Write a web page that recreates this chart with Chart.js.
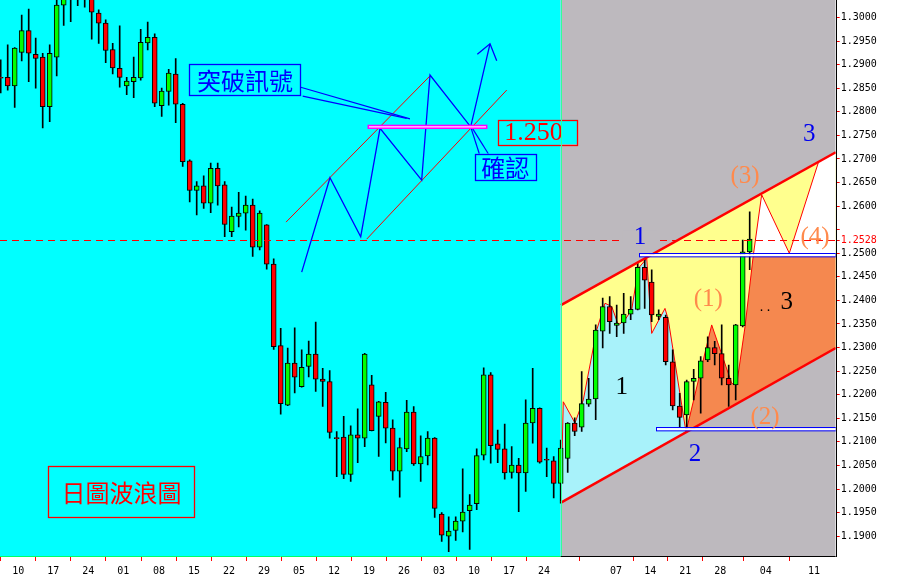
<!DOCTYPE html>
<html>
<head>
<meta charset="utf-8">
<script src="https://cdn.jsdelivr.net/npm/chart.js@4.4.1/dist/chart.umd.min.js"></script>
<style>
  html, body { margin: 0; padding: 0; background: #ffffff; }
  canvas { display: block; }
</style>
</head>
<body>
<canvas id="waveChart" width="898" height="581"></canvas>
<script>
// daily candles, one per trading day (index = bar number)
const opens = [1.2873,1.2873,1.2855,1.2926,1.2972,1.2922,1.2916,1.2811,1.2916,1.3026,1.3060,1.3070,1.3062,1.3052,1.3009,1.2988,1.2932,1.2892,1.2855,1.2864,1.2872,1.2946,1.2958,1.2813,1.2843,1.2880,1.2816,1.2696,1.2633,1.2643,1.2606,1.2680,1.2645,1.2546,1.2578,1.2585,1.2602,1.2513,1.2560,1.2477,1.2304,1.2178,1.2267,1.2217,1.2260,1.2286,1.2233,1.2228,1.2109,1.2110,1.2031,1.2115,1.2108,1.2221,1.2154,1.2184,1.2129,1.2038,1.2085,1.2163,1.2053,1.2070,1.2108,1.1947,1.1900,1.1912,1.1932,1.1954,1.1969,1.2072,1.2242,1.2096,1.2085,1.2035,1.2051,1.2034,1.2140,1.2171,1.2063,1.2060,1.2012,1.2065,1.2140,1.2131,1.2180,1.2191,1.2335,1.2387,1.2347,1.2352,1.2371,1.2381,1.2470,1.2439,1.2366,1.2364,1.2270,1.2176,1.2157,1.2228,1.2235,1.2274,1.2300,1.2287,1.2235,1.2221,1.2346,1.2503];
const highs = [1.2910,1.2942,1.2936,1.3005,1.3018,1.2956,1.2924,1.2942,1.3045,1.3080,1.3090,1.3095,1.3085,1.3070,1.3016,1.2995,1.2945,1.2982,1.2873,1.2916,1.2975,1.2990,1.2965,1.2850,1.2890,1.2913,1.2818,1.2698,1.2652,1.2664,1.2691,1.2691,1.2652,1.2598,1.2629,1.2621,1.2615,1.2590,1.2561,1.2488,1.2341,1.2299,1.2342,1.2295,1.2314,1.2354,1.2256,1.2251,1.2122,1.2154,1.2134,1.2170,1.2288,1.2241,1.2186,1.2205,1.2147,1.2108,1.2188,1.2175,1.2113,1.2122,1.2109,1.1950,1.1941,1.1941,1.2043,1.1988,1.2085,1.2257,1.2247,1.2125,1.2138,1.2090,1.2065,1.2189,1.2256,1.2172,1.2087,1.2069,1.2104,1.2141,1.2151,1.2249,1.2235,1.2348,1.2405,1.2408,1.2390,1.2415,1.2408,1.2480,1.2489,1.2465,1.2380,1.2369,1.2295,1.2203,1.2231,1.2254,1.2281,1.2323,1.2313,1.2348,1.2263,1.2349,1.2528,1.2588];
const lows = [1.2840,1.2846,1.2809,1.2908,1.2864,1.2850,1.2766,1.2779,1.2876,1.2983,1.2991,1.3025,1.3022,1.2954,1.2945,1.2904,1.2880,1.2852,1.2836,1.2830,1.2867,1.2931,1.2811,1.2790,1.2814,1.2777,1.2684,1.2609,1.2581,1.2595,1.2586,1.2602,1.2535,1.2535,1.2556,1.2549,1.2493,1.2507,1.2466,1.2296,1.2159,1.2177,1.2204,1.2216,1.2238,1.2207,1.2175,1.2108,1.2026,1.2022,1.2016,1.2056,1.2090,1.2123,1.2069,1.2098,1.2019,1.1983,1.2079,1.2050,1.2016,1.2051,1.1940,1.1889,1.1867,1.1891,1.1909,1.1872,1.1956,1.2062,1.2055,1.2056,1.2021,1.2023,1.1952,1.1995,1.2097,1.2055,1.2026,1.1981,1.1970,1.2035,1.2113,1.2122,1.2175,1.2147,1.2299,1.2330,1.2323,1.2330,1.2359,1.2380,1.2383,1.2355,1.2359,1.2263,1.2168,1.2132,1.2129,1.2189,1.2161,1.2270,1.2263,1.2221,1.2175,1.2189,1.2344,1.2465];
const closes = [1.2871,1.2855,1.2935,1.2972,1.2924,1.2913,1.2811,1.2924,1.3026,1.3060,1.3068,1.3062,1.3052,1.3011,1.2988,1.2930,1.2893,1.2873,1.2865,1.2873,1.2947,1.2958,1.2818,1.2844,1.2882,1.2816,1.2694,1.2633,1.2643,1.2606,1.2680,1.2643,1.2561,1.2579,1.2585,1.2602,1.2513,1.2585,1.2477,1.2302,1.2181,1.2267,1.2237,1.2258,1.2286,1.2233,1.2228,1.2120,1.2107,1.2031,1.2115,1.2108,1.2286,1.2124,1.2185,1.2129,1.2038,1.2088,1.2163,1.2053,1.2069,1.2108,1.1959,1.1902,1.1911,1.1932,1.1951,1.1966,1.2071,1.2242,1.2092,1.2084,1.2034,1.2051,1.2034,1.2140,1.2171,1.2057,1.2061,1.2012,1.2087,1.2140,1.2122,1.2181,1.2191,1.2337,1.2387,1.2355,1.2352,1.2371,1.2381,1.2470,1.2443,1.2369,1.2371,1.2270,1.2176,1.2152,1.2228,1.2235,1.2272,1.2300,1.2287,1.2235,1.2221,1.2348,1.2503,1.2530];

// axis ticks
const dayTicks = [2.5,7.5,12.5,17.5,22.6,27.6,32.6,37.6,42.6,47.6,52.6,57.6,62.6,67.6,72.6,77.6,87.9,92.8,97.8,102.8,109.3,116.2];
const dayLabels = ["10","17","24","01","08","15","22","29","05","12","19","26","03","10","17","24","07","14","21","28","04","11"];
const priceTicks = [1.1900,1.1950,1.2000,1.2050,1.2100,1.2150,1.2200,1.2250,1.2300,1.2350,1.2400,1.2450,1.2500,1.2528,1.2550,1.2600,1.2650,1.2700,1.2750,1.2800,1.2850,1.2900,1.2950,1.3000];
const priceLabels = ["1.1900","1.1950","1.2000","1.2050","1.2100","1.2150","1.2200","1.2250","1.2300","1.2350","1.2400","1.2450","1.2500","1.2528","","1.2600","1.2650","1.2700","1.2750","1.2800","1.2850","1.2900","1.2950","1.3000"];
const markLevel = 1.2528;
const futureStart = 80;

// wave count drawing (bar index, price)
const channelTop = [[80.04, 1.2390], [119.29, 1.2714]];
const channelBottom = [[80.04, 1.1971], [119.29, 1.2299]];
const wavePath = [[80.04,1.1971],[80.37,1.2185],[82.04,1.2140],[83.23,1.2189],[85.14,1.2337],[86.33,1.2394],[87.29,1.2387],[88.23,1.2348],[89.19,1.2359],[90.14,1.2380],[91.09,1.2468],[92.29,1.2489],[93.0,1.2330],[94.9,1.2383],[95.37,1.2359],[97.9,1.2121],[101.57,1.2348],[104.43,1.2224],[105.14,1.2221],[106.33,1.2344],[107.51,1.2495],[108.71,1.2624],[112.66,1.2500],[116.8,1.2692]];
const waveLowIdx = 15;
const waveBreakIdx = 20;
const levelHigh = { from: 91.23, to: 119.29, top: 1.2498, bottom: 1.2493 };
const levelLow = { from: 93.6, to: 119.29, top: 1.2129, bottom: 1.2124 };

// breakout sketch on the left
const sketchWave = [[43.0,1.2460],[47.04,1.2660],[51.43,1.2535],[54.19,1.2765],[60.14,1.2655],[61.33,1.2878],[67.14,1.2768],[69.9,1.2944]];
const sketchArrow = [[68.09,1.2922],[69.9,1.2944],[70.86,1.2908]];
const sketchRails = [[[40.76,1.2566],[61.33,1.2876]], [[52.29,1.2530],[72.29,1.2846]]];
const breakBar = { from: 52.51, to: 69.43, top: 1.2771, bottom: 1.2765 };
const pointers = [
  [[42.86,1.2852],[58.47,1.2785]], [[43.14,1.2833],[58.0,1.2786]],
  [[67.14,1.2768],[68.37,1.2711]], [[67.26,1.2768],[69.66,1.2711]]
];

const notes = [
  { text: "突破訊號", from: [26.94,1.2901], to: [42.86,1.2836], color: "#0000ff" },
  { text: "確認", from: [67.76,1.2711], to: [76.43,1.2655], color: "#0000ff" },
  { text: "1.250", from: [71.09,1.2783], to: [82.37,1.2731], color: "#ff0000", serif: true },
  { text: "日圖波浪圖", from: [6.8,1.2049], to: [27.71,1.1941], color: "#ff0000" }
];
const waveLabels = [
  { text: "1", at: [91.33,1.2535], color: "#0000ee", bg: true },
  { text: "(1)", at: [101.09,1.2405], color: "#ff8a4c" },
  { text: "3", at: [112.29,1.2397], color: "#000000" },
  { text: ". .", at: [109.2,1.2388], color: "#000000", small: true },
  { text: "1", at: [88.71,1.2217], color: "#000000" },
  { text: "(2)", at: [109.19,1.2154], color: "#ff8a4c" },
  { text: "2", at: [99.19,1.2076], color: "#0000ee" },
  { text: "(3)", at: [106.33,1.2666], color: "#ff8a4c" },
  { text: "3", at: [115.51,1.2754], color: "#0000ee" },
  { text: "(4)", at: [116.33,1.2535], color: "#ff8a4c" }
];

const bodies = opens.map((o, i) => ({ x: i, y: [Math.min(o, closes[i]), Math.max(o, closes[i])] }));
const wicks = highs.map((h, i) => ({ x: i, y: [lows[i], h] }));
const bodyColors = opens.map((o, i) => (closes[i] >= o ? "#00ff00" : "#ff0000"));

const toPx = (chart, p) => [chart.scales.x.getPixelForValue(p[0]), chart.scales.y.getPixelForValue(p[1])];

function fillPoly(ctx, pts, color) {
  ctx.beginPath();
  pts.forEach((p, i) => (i ? ctx.lineTo(p[0], p[1]) : ctx.moveTo(p[0], p[1])));
  ctx.closePath();
  ctx.fillStyle = color;
  ctx.fill();
}

function strokePath(ctx, pts, color, width, dash) {
  ctx.beginPath();
  pts.forEach((p, i) => (i ? ctx.lineTo(p[0], p[1]) : ctx.moveTo(p[0], p[1])));
  ctx.strokeStyle = color;
  ctx.lineWidth = width;
  ctx.setLineDash(dash || []);
  ctx.stroke();
  ctx.setLineDash([]);
}

const backdrop = {
  id: "backdrop",
  beforeDatasetsDraw(chart) {
    const { ctx, chartArea: a } = chart;
    const P = (p) => toPx(chart, p);
    const split = chart.scales.x.getPixelForValue(futureStart);
    ctx.save();
    ctx.beginPath();
    ctx.rect(a.left, a.top, a.right - a.left, a.bottom - a.top);
    ctx.clip();
    ctx.fillStyle = "#00ffff";
    ctx.fillRect(a.left, a.top, split - a.left, a.bottom - a.top);
    ctx.fillStyle = "#bdb9be";
    ctx.fillRect(split, a.top, a.right - split, a.bottom - a.top);

    // channel body, yellow
    fillPoly(ctx, [channelTop[0], channelTop[1], channelBottom[1], channelBottom[0]].map(P), "#ffff8e");
    // wave 1 / 2 area
    fillPoly(ctx, wavePath.slice(0, waveLowIdx + 1).map(P), "#a8f2fa");
    // wave 3 area
    const orange = wavePath.slice(waveLowIdx, waveBreakIdx + 1)
      .concat([[levelHigh.to, wavePath[waveBreakIdx][1]], channelBottom[1]]);
    fillPoly(ctx, orange.map(P), "#f5884f");
    // projected path area
    const white = wavePath.slice(waveBreakIdx).concat([channelTop[1], [levelHigh.to, wavePath[waveBreakIdx][1]]]);
    fillPoly(ctx, white.map(P), "#ffffff");

    strokePath(ctx, wavePath.map(P), "#ff0000", 1);
    ctx.restore();
  },
  afterDatasetsDraw(chart) {
    const { ctx, chartArea: a } = chart;
    const P = (p) => toPx(chart, p);
    const x = chart.scales.x, y = chart.scales.y;
    const split = x.getPixelForValue(futureStart);
    ctx.save();
    ctx.beginPath();
    ctx.rect(a.left, a.top, a.right - a.left, a.bottom - a.top);
    ctx.clip();

    // channel rails
    strokePath(ctx, channelTop.map(P), "#ff0000", 2.5);
    strokePath(ctx, channelBottom.map(P), "#ff0000", 2.5);

    // blue level bars
    [levelHigh, levelLow].forEach((lv) => {
      const x0 = x.getPixelForValue(lv.from), x1 = x.getPixelForValue(lv.to);
      const y0 = y.getPixelForValue(lv.top), y1 = y.getPixelForValue(lv.bottom);
      ctx.fillStyle = "#ffffff";
      ctx.fillRect(x0, y0, x1 - x0, y1 - y0);
      ctx.strokeStyle = "#0000ff";
      ctx.lineWidth = 1;
      ctx.strokeRect(Math.round(x0) + 0.5, Math.round(y0) - 0.5, x1 - x0, Math.max(2, y1 - y0) + 1);
    });

    // dashed mark level
    const yMark = Math.round(y.getPixelForValue(markLevel)) + 0.5;
    strokePath(ctx, [[a.left, yMark], [a.right, yMark]], "#ff0000", 1, [7, 5]);

    // breakout sketch
    sketchRails.forEach((r) => strokePath(ctx, r.map(P), "#ff0000", 1));
    strokePath(ctx, sketchWave.map(P), "#0000ff", 1.3);
    strokePath(ctx, sketchArrow.map(P), "#0000ff", 1.3);
    pointers.forEach((l) => strokePath(ctx, l.map(P), "#0000ff", 1.2));
    {
      const x0 = x.getPixelForValue(breakBar.from), x1 = x.getPixelForValue(breakBar.to);
      const y0 = y.getPixelForValue(breakBar.top), y1 = y.getPixelForValue(breakBar.bottom);
      ctx.fillStyle = "#ffd6ff";
      ctx.fillRect(x0, y0, x1 - x0, y1 - y0);
      ctx.strokeStyle = "#ff00ff";
      ctx.lineWidth = 1.5;
      ctx.strokeRect(x0, y0, x1 - x0, y1 - y0);
    }

    // boxed notes
    notes.forEach((n) => {
      const [x0, y0] = P(n.from), [x1, y1] = P(n.to);
      ctx.fillStyle = "#00ffff";
      ctx.fillRect(x0, y0, x1 - x0, y1 - y0);
      ctx.strokeStyle = n.color;
      ctx.lineWidth = 1.3;
      ctx.strokeRect(Math.round(x0) + 0.5, Math.round(y0) + 0.5, Math.round(x1 - x0), Math.round(y1 - y0));
      ctx.fillStyle = n.color;
      ctx.textBaseline = "middle";
      if (n.serif) {
        ctx.font = "26px 'Liberation Serif', serif";
        ctx.textAlign = "left";
        ctx.fillText(n.text, x0 + 6, (y0 + y1) / 2 + 1);
      } else {
        ctx.font = "24px 'Noto Sans CJK TC', sans-serif";
        ctx.textAlign = "center";
        ctx.fillText(n.text, (x0 + x1) / 2, (y0 + y1) / 2 + 1);
      }
    });

    // wave count labels
    waveLabels.forEach((l) => {
      const [cx, cy] = P(l.at);
      ctx.font = l.small ? "14px 'Liberation Serif', serif" : "25px 'Liberation Serif', serif";
      ctx.textAlign = "center";
      ctx.textBaseline = "middle";
      if (l.bg) {
        const w = ctx.measureText(l.text).width + 22;
        ctx.fillStyle = "#bdb9be";
        ctx.fillRect(cx - w / 2, cy - 6, w, 12);
      }
      ctx.fillStyle = l.color;
      ctx.fillText(l.text, cx, cy + 1);
    });
    ctx.restore();

    // frame
    ctx.save();
    const yb = Math.round(a.bottom) + 0.5;
    strokePath(ctx, [[a.left, yb], [split, yb]], "#00ff66", 1);
    strokePath(ctx, [[split, yb], [a.right, yb]], "#000000", 1);
    strokePath(ctx, [[Math.round(split) + 0.5, a.top], [Math.round(split) + 0.5, a.bottom]], "#33ff99", 1);
    strokePath(ctx, [[Math.round(a.right) + 0.5, a.top], [Math.round(a.right) + 0.5, a.bottom + 1]], "#000000", 1);
    ctx.restore();
  }
};

const noPadding = (scale) => {
  scale.paddingTop = 0;
  scale.paddingBottom = 0;
  scale.paddingLeft = 0;
  scale.paddingRight = 0;
};

new Chart(document.getElementById("waveChart").getContext("2d"), {
  type: "bar",
  data: {
    datasets: [
      {
        label: "body",
        data: bodies,
        backgroundColor: bodyColors,
        borderColor: "#000000",
        borderWidth: 1,
        borderSkipped: false,
        barThickness: 5,
        grouped: false,
        order: 0
      },
      {
        label: "wick",
        data: wicks,
        backgroundColor: "#000000",
        borderWidth: 0,
        barThickness: 1,
        grouped: false,
        order: 1
      }
    ]
  },
  options: {
    responsive: false,
    animation: false,
    devicePixelRatio: 1,
    layout: { padding: 0 },
    plugins: { legend: { display: false }, tooltip: { enabled: false } },
    scales: {
      x: {
        type: "linear",
        min: -0.1,
        max: 119.286,
        offset: false,
        afterBuildTicks: (scale) => { scale.ticks = dayTicks.map((v) => ({ value: v })); },
        afterFit: (scale) => { scale.height = 25; noPadding(scale); },
        grid: { drawOnChartArea: false, drawTicks: true, tickLength: 5, color: "#ff0000" },
        border: { display: false },
        ticks: {
          autoSkip: false,
          maxRotation: 0,
          padding: 4,
          color: "#000000",
          font: { family: "'DejaVu Sans Mono', monospace", size: 10 },
          callback: (v, i) => dayLabels[i]
        }
      },
      y: {
        position: "right",
        min: 1.1858,
        max: 1.3037,
        afterBuildTicks: (scale) => { scale.ticks = priceTicks.map((v) => ({ value: v })); },
        afterFit: (scale) => { scale.width = 62.3; noPadding(scale); },
        grid: { drawOnChartArea: false, drawTicks: true, tickLength: 4, color: "#ff0000" },
        border: { display: false },
        ticks: {
          autoSkip: false,
          padding: 1,
          color: (c) => (c.tick && c.tick.value === markLevel ? "#ff0000" : "#000000"),
          font: { family: "'DejaVu Sans Mono', monospace", size: 10 },
          callback: (v, i) => priceLabels[i]
        }
      }
    }
  },
  plugins: [backdrop]
});
</script>
</body>
</html>
